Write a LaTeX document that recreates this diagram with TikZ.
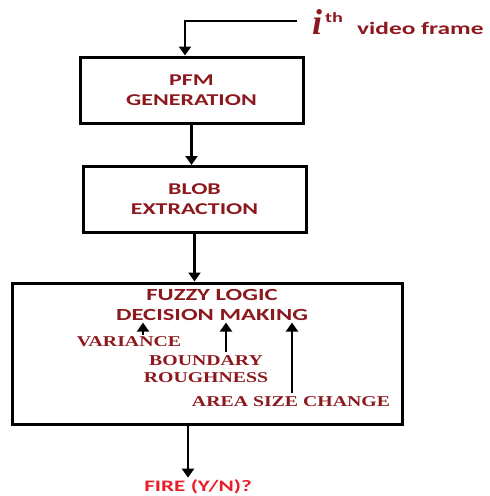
\documentclass[tikz,border=0pt]{standalone}
\usepackage{fontspec}
\usetikzlibrary{positioning, arrows.meta}
\newfontfamily\boxfont[FakeStretch=1.45]{Carlito}
\newfontfamily\cuefont[FakeStretch=1.32]{Liberation Serif}
\newfontfamily\ifont{Liberation Serif}
\definecolor{darkred}{RGB}{140,25,30}
\definecolor{firered}{RGB}{232,30,40}
\tikzset{
block/.style={draw, line width=3pt, minimum width=223pt, minimum height=66pt, align=center, text=darkred, font=\boxfont\bfseries\fontsize{16.5}{20}\selectfont},
cue/.style={text=darkred, align=center, inner sep=1pt, font=\cuefont\bfseries\fontsize{15}{16.5}\selectfont},
flow/.style={-{Triangle[width=12pt,length=9pt]}, line width=2.6pt},
}

\begin{document}
\begin{tikzpicture}[x=1pt, y=-1pt]
    \useasboundingbox (0,0) rectangle (490,496);

    %input frame
    \node[anchor=base west, inner sep=0, text=darkred] (frame) at (312,34) {{\ifont\bfseries\itshape\fontsize{36}{36}\selectfont i}\hspace{3pt}\raisebox{12pt}{\boxfont\bfseries\fontsize{14}{14}\selectfont th}\hspace{14pt}{\boxfont\bfseries\fontsize{17.5}{17.5}\selectfont video frame}};
    \coordinate (src) at (297,21);

    %blocks
    \node[block] (pfm)  at (191.5,90)  {PFM\\GENERATION};
    \node[block] (blob) at (194.5,199.5) {BLOB\\EXTRACTION};
    \node[block, minimum width=390pt, minimum height=141pt] (fuzzybox) at (207,353.5) { };

    %inside the fuzzy block
    \node[text=darkred, align=center, inner sep=2pt, font=\boxfont\bfseries\fontsize{17}{19.5}\selectfont] (fuzzy) at (212,305) {FUZZY LOGIC\\DECISION MAKING};
    \node[cue, anchor=base] (var)   at (129,346) {VARIANCE};
    \node[cue]              (bound) at (206,369) {BOUNDARY\\ROUGHNESS};
    \node[cue, anchor=base] (area)  at (291,406) {AREA SIZE CHANGE};

    %output
    \node[text=firered, inner sep=2pt, font=\boxfont\bfseries\fontsize{16}{16}\selectfont] (fire) at (198,487) {FIRE (Y/N)?};

    %main flow
    \draw[flow] (src) -| (185,0 |- pfm.north);
    \draw[flow] (pfm.south) -- (pfm.south |- blob.north);
    \draw[flow] (blob.south) -- (blob.south |- fuzzybox.north);
    \draw[flow] ([xshift=-10pt]fire.north |- fuzzybox.south) -- ([xshift=-10pt]fire.north);

    %cues into the decision
    \coordinate (vin) at (143,335);
    \coordinate (bin) at (226,352);
    \coordinate (ain) at (292,393);
    \draw[flow] (vin) -- (vin |- fuzzy.south);
    \draw[flow] (bin) -- (bin |- fuzzy.south);
    \draw[flow] (ain) -- (ain |- fuzzy.south);
\end{tikzpicture}
\end{document}
